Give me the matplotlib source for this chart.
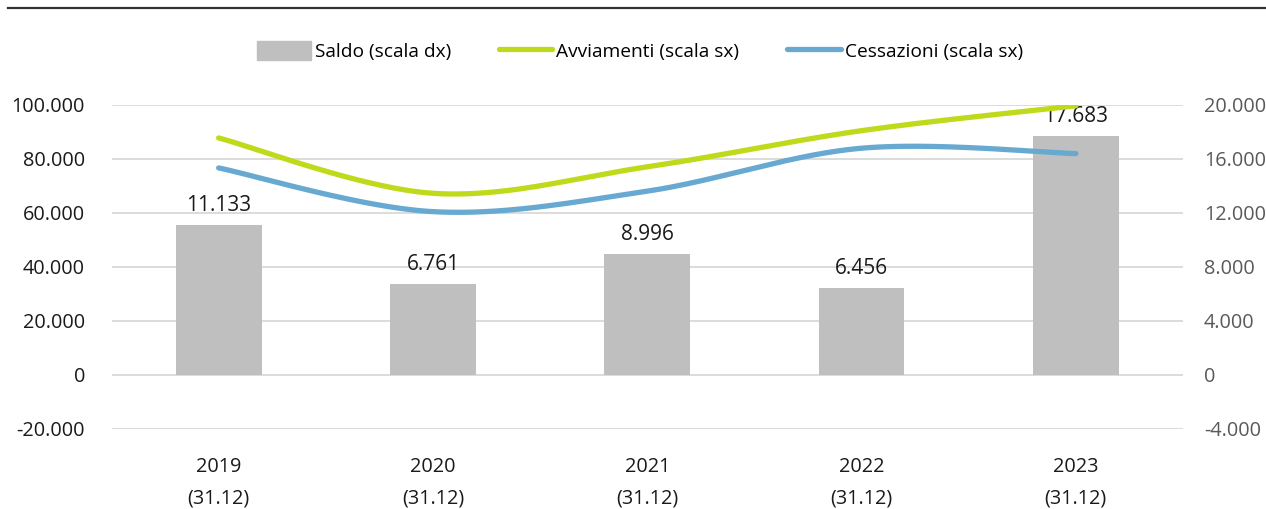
import numpy as np
import matplotlib
matplotlib.use("Agg")
import matplotlib.pyplot as plt
from matplotlib.lines import Line2D
from matplotlib.patches import Patch

categories = ["2019\n(31.12)", "2020\n(31.12)", "2021\n(31.12)", "2022\n(31.12)", "2023\n(31.12)"]
saldo = [11133, 6761, 8996, 6456, 17683]
avviamenti = [87800, 67300, 77100, 90500, 99700]
cessazioni = [76700, 60500, 68100, 84000, 82000]
left_ticks = [-20000, 0, 20000, 40000, 60000, 80000, 100000]
right_ticks = [-4000, 0, 4000, 8000, 12000, 16000, 20000]

plt.rcParams['font.family'] = ['Open Sans', 'DejaVu Sans']

GREEN = "#BFDA1A"
BLUE = "#67A9D1"
BAR = "#BFBFBF"
GRID = "#D9D9D9"
FS = 14.3


def fmt(v):
    s = f"{abs(int(v)):,}".replace(",", ".")
    return ("-" if v < 0 else "") + s


def smooth(xs, ys, n=60):
    xs = np.asarray(xs, float)
    ys = np.asarray(ys, float)
    P = np.column_stack([xs, ys])
    ext = np.vstack([P[0], P, P[-1]])
    out = []
    t = np.linspace(0, 1, n)[:, None]
    for i in range(len(P) - 1):
        p0, p1, p2, p3 = ext[i], ext[i + 1], ext[i + 2], ext[i + 3]
        c1 = p1 + (p2 - p0) / 6.0
        c2 = p2 - (p3 - p1) / 6.0
        seg = ((1 - t) ** 3) * p1 + 3 * ((1 - t) ** 2) * t * c1 + 3 * (1 - t) * t ** 2 * c2 + t ** 3 * p2
        out.append(seg if i == 0 else seg[1:])
    c = np.vstack(out)
    return c[:, 0], c[:, 1]


fig = plt.figure(figsize=(12.66, 5.09), dpi=100)
ax = fig.add_axes([111.5 / 1266, 1 - 429 / 509, (1183 - 111.5) / 1266, (429 - 105) / 509])
ax2 = ax.twinx()

x = np.arange(len(categories))

# bars on right axis
ax2.bar(x, saldo, width=0.4, color=BAR, zorder=2)
for xi, v in zip(x, saldo):
    ax2.annotate(fmt(v), (xi, v), xytext=(0, 6.5), textcoords="offset points",
                 ha="center", va="bottom", fontsize=15, color="#1a1a1a")
ax2.set_ylim(-4000, 20000)
ax2.set_yticks(right_ticks)
ax2.set_yticklabels([fmt(v) for v in right_ticks], fontsize=FS, color="#595959")
ax2.tick_params(axis="y", length=0, pad=15)

# lines on left axis (drawn above bars)
ax.set_zorder(ax2.get_zorder() + 1)
ax.patch.set_visible(False)
sx, sy = smooth(x, avviamenti)
ax.plot(sx, sy, color=GREEN, lw=3.8, solid_capstyle="round", zorder=3)
sx, sy = smooth(x, cessazioni)
ax.plot(sx, sy, color=BLUE, lw=3.8, solid_capstyle="round", zorder=3)
ax.set_ylim(-20000, 100000)
ax.set_yticks(left_ticks)
ax.set_yticklabels([fmt(v) for v in left_ticks], fontsize=FS, color="#1a1a1a")
ax.tick_params(axis="y", length=0, pad=19)
ax.set_xlim(-0.5, 4.5)
ax.set_xticks(x)
ax.set_xticklabels(categories, fontsize=FS, color="#1a1a1a", linespacing=1.75)
ax.tick_params(axis="x", length=0, pad=20)

# gridlines drawn on the back axis
for v in right_ticks:
    ax2.axhline(v, color=GRID, lw=1.3, zorder=0)

for a in (ax, ax2):
    for s in a.spines.values():
        s.set_visible(False)

# top rule
fig.add_artist(Line2D([8 / 1266, 1.0], [1 - 8 / 509, 1 - 8 / 509], color="#333333", lw=1.6))

handles = [Patch(facecolor=BAR, edgecolor=BAR),
           Line2D([], [], color=GREEN, lw=3.8, solid_capstyle="round"),
           Line2D([], [], color=BLUE, lw=3.8, solid_capstyle="round")]
labels = ["Saldo (scala dx)", "Avviamenti (scala sx)", "Cessazioni (scala sx)"]
fig.legend(handles, labels, loc="center", bbox_to_anchor=(640 / 1266, 1 - 51 / 509), ncol=3,
           frameon=False, handlelength=2.8, handleheight=1.1, handletextpad=0.2,
           columnspacing=2.5, prop={'family': ['Open Sans'], 'size': 13.8})

fig.savefig("out.png", dpi=100)
